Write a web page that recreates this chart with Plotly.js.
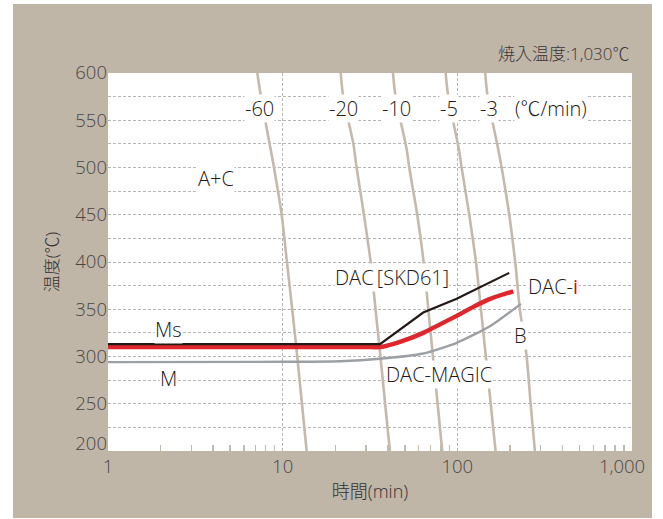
<!DOCTYPE html>
<html>
<head>
<meta charset="utf-8">
<script src="https://cdn.plot.ly/plotly-3.0.1.min.js"></script>
<style>
  html, body { margin: 0; padding: 0; background: #ffffff; }
  #chart { position: absolute; left: 13px; top: 4px; width: 639px; height: 514px; }
</style>
</head>
<body>
<div id="chart"></div>
<script>
// ---- Data (time in min, temperature in °C) ----
// Continuous cooling curves
const rateLabels = ["-60", "-20", "-10", "-5", "-3"];
const cool60T = [7.16, 7.51, 8.54, 8.92, 9.87, 10.58, 11.34, 12.12, 13.72];
const cool60Y = [600, 575, 519, 500, 450, 400, 350, 300, 200];
const cool20T = [21.5, 22.2, 25.4, 26.5, 29.2, 31.9, 34.0, 36.3, 38.6, 41.1];
const cool20Y = [600, 575, 525, 500, 450, 400, 350, 300, 250, 200];
const cool10T = [42.8, 44.3, 51.3, 53.05, 58.96, 64.14, 68.2, 72.5, 77.1, 81.95];
const cool10Y = [600, 575, 519, 500, 450, 400, 350, 300, 250, 200];
const cool5T = [85.7, 88.7, 102.1, 105.8, 117.0, 127.8, 136.5, 145.6, 155.3, 165.6];
const cool5Y = [600, 575, 519, 500, 450, 400, 350, 300, 250, 200];
const cool3T = [144.4, 149.1, 171.5, 179.3, 198.2, 214.5, 228, 249.3, 262.8, 278.1];
const cool3Y = [600, 575, 519, 500, 450, 400, 350, 300, 250, 200];

// Transformation curves
const skd61T = [1, 36.1, 63.8, 99.1, 198.2];
const skd61Y = [313, 313, 346.5, 361, 388.5];
const daciT = [1, 30, 36.1, 46.9, 63.8, 79.5, 99.1, 123.3, 153.7, 208.9];
const daciY = [310, 310, 310, 315.5, 325, 334, 343, 352.5, 361, 369];
const magicT = [1, 10, 21.3, 36.1, 63.8, 99.1, 153.7, 231.2];
const magicY = [294, 294.4, 295, 297.6, 303.2, 314.5, 332, 355.7];

// Axis ticks
const xTickVals = [1, 10, 100];
const xTickText = ["1", "10", "100"];
const xEndTick = [1000];
const xEndText = ["1,000"];
const xMinorVals = [2,3,4,5,6,7,8,9,20,30,40,50,60,70,80,90,200,300,400,500,600,700,800,900];
const yTickVals = [250, 300, 350, 400, 450, 500, 550, 600];
const yBottomTick = [200];

// ---- Styles ----
const FONT = '"Open Sans", "Noto Sans CJK JP", sans-serif';
const coolColor = '#c4b9ac';
const txt = '#231815';
const gridColor = '#b5b5b5';
const tickFont = { family: FONT, size: 18.5, color: '#4a4545', weight: 300 };

const coolSets = [[cool60T, cool60Y], [cool20T, cool20Y], [cool10T, cool10Y], [cool5T, cool5Y], [cool3T, cool3Y]];
const traces = coolSets.map((s, i) => ({
  x: s[0], y: s[1], mode: 'lines', type: 'scatter', name: rateLabels[i],
  line: { color: coolColor, width: 2.6, shape: 'spline', smoothing: 0.8 },
  hoverinfo: 'skip'
}));
traces.push({ x: magicT, y: magicY, mode: 'lines', type: 'scatter', name: 'DAC-MAGIC', yaxis: 'y2',
  line: { color: '#9c9fa4', width: 2.4, shape: 'spline', smoothing: 0.6 } });
traces.push({ x: skd61T, y: skd61Y, mode: 'lines', type: 'scatter', name: 'DAC[SKD61]', xaxis: 'x2',
  line: { color: '#231815', width: 2.2 } });
traces.push({ x: daciT, y: daciY, mode: 'lines', type: 'scatter', name: 'DAC-i',
  line: { color: '#e0262c', width: 4.4, shape: 'spline', smoothing: 0.5 } });

function ann(text, x, y, opts) {
  return Object.assign({
    text: text, x: Math.log10(x), y: y, xref: 'x', yref: 'y', showarrow: false,
    font: { family: FONT, size: 20, color: txt, weight: 300 }, bgcolor: '#ffffff', borderpad: 0,
    xanchor: 'center', yanchor: 'middle'
  }, opts || {});
}

const annotations = [
  ann('-60', 7.32, 562),
  ann('-20', 22.4, 562),
  ann('-10', 44.8, 562),
  ann('-5', 90.1, 562),
  ann('-3', 151.7, 562),
  ann('(℃/min)', 345.6, 562),
  ann('A+C', 4.17, 488),
  ann('Ms', 2.206, 328.5),
  ann('M', 2.22, 276.7),
  ann('DAC\u2009[SKD61]', 19.7, 383.5, { xanchor: 'left' }),
  ann('DAC-<span style="color:#e60012;font-weight:400">i</span>', 249.3, 374.3, { xanchor: 'left' }),
  ann('B', 231.2, 322.2),
  ann('DAC-MAGIC', 78.5, 281),
  { text: '焼入温度:1,030℃', xref: 'paper', yref: 'paper', x: 1.0, y: 1.052,
    xanchor: 'right', yanchor: 'middle', showarrow: false,
    font: { family: FONT, size: 17, color: '#3a3535', weight: 300 } }
];

const layout = {
  width: 639, height: 514,
  margin: { l: 95, r: 20, t: 69, b: 66.5 },
  paper_bgcolor: '#c0b6a8',
  plot_bgcolor: '#ffffff',
  showlegend: false,
  font: { family: FONT, color: '#4a4545' },
  xaxis: {
    type: 'log', range: [0, 3.00001], tickmode: 'array', tickvals: xTickVals, ticktext: xTickText,
    ticks: '', showline: false, zeroline: false,
    showgrid: true, gridcolor: gridColor, griddash: '3px,2px', gridwidth: 1,
    tickfont: tickFont,
    ticklabelstandoff: 2,
    ticklabeloverflow: 'allow',
    minor: { tickmode: 'array', tickvals: xMinorVals, ticks: 'inside', ticklen: 6,
             tickwidth: 1.5, tickcolor: coolColor, showgrid: false },
    title: { text: '時間(min)', font: { family: FONT, size: 18, color: '#333030', weight: 300 }, standoff: 8 },
    automargin: false
  },
  xaxis2: {
    type: 'log', overlaying: 'x', side: 'bottom', anchor: 'y', range: [0, 3.00001],
    tickmode: 'array', tickvals: xEndTick, ticktext: xEndText,
    ticks: '', showline: false, zeroline: false, showgrid: false,
    tickfont: tickFont, ticklabelstandoff: 2, ticklabelshift: -10, ticklabeloverflow: 'allow',
    automargin: false
  },
  yaxis: {
    range: [200, 600], tickmode: 'array', tickvals: yTickVals,
    ticks: '', showline: false, zeroline: false,
    showgrid: true, gridcolor: gridColor, griddash: '3px,2px', gridwidth: 1,
    tickfont: tickFont,
    ticklabeloverflow: 'allow',
    minor: { dtick: 25, showgrid: true, gridcolor: gridColor, griddash: '3px,2px', gridwidth: 1 },
    title: { text: '温度(℃)', font: { family: FONT, size: 17, color: '#333030', weight: 300 }, standoff: 12 },
    automargin: false
  },
  yaxis2: {
    overlaying: 'y', side: 'left', range: [200, 600], tickmode: 'array', tickvals: yBottomTick,
    ticks: '', showline: false, zeroline: false, showgrid: false,
    tickfont: tickFont, ticklabelshift: -7, ticklabeloverflow: 'allow', automargin: false
  },
  annotations: annotations
};

Plotly.newPlot('chart', traces, layout, { displayModeBar: false, staticPlot: true });
</script>
</body>
</html>
